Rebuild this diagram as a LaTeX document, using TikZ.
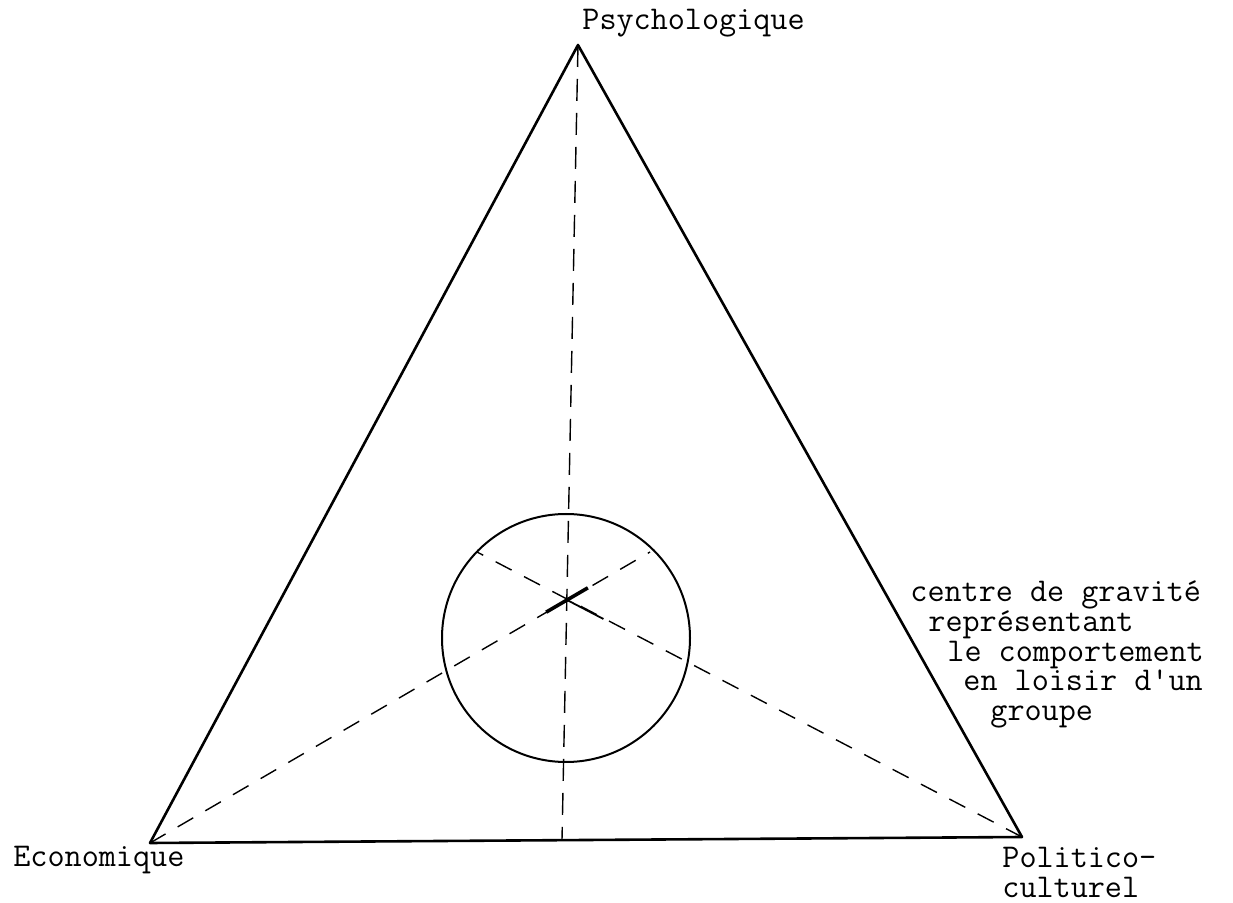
\documentclass[tikz,border=0pt]{standalone}
\usepackage{tikz}
\usetikzlibrary{calc}
\lineskiplimit=-\maxdimen

\begin{document}
\begin{tikzpicture}[x=0.5pt, y=-0.5pt,
  every node/.style={font=\fontsize{16.6}{15}\selectfont\ttfamily, inner sep=0pt},
  edge/.style={line width=1.3pt, line join=round},
  ring/.style={line width=1pt},
  median/.style={line width=0.7pt, dash pattern=on 9pt off 7pt},
  grav/.style={line width=1.8pt},
  lbl/.style={anchor=base west, align=left}
]
\useasboundingbox (0,0) rectangle (1233,903);

% Corners of the triangle
\coordinate (psy) at (578,45);
\coordinate (eco) at (150,843);
\coordinate (pol) at (1022,837);
\coordinate (foot) at (562,840);
\coordinate (G) at (567,600);
\coordinate (O) at (566,638);
\coordinate (ne) at (650,552);
\coordinate (nw) at (477,552);

% Triangle and zone
\draw[edge] (psy) -- (eco) -- (pol) -- cycle;
\draw[ring] (O) circle[radius=124];

% Dashed lines through the centre
\draw[median, dash pattern=on 11pt off 6pt] (psy) -- (foot);
\draw[median] (eco) -- (ne);
\draw[median] (pol) -- (nw);

% Centre of gravity mark
\draw[grav] ($(G)!0.05!(eco)$) -- ($(G)!-0.05!(eco)$);
\draw[line width=0.9pt] (G) -- ($(G)!0.08!(pol)$);

% Labels (base = last line)
\node[lbl] (psylbl) at (582,30) {Psychologique};
\node[lbl] (ecolbl) at (13,866) {Economique};
\node[lbl] (pollbl) at (1002,897) {Politico-\\culturel};
\node[lbl] (gravlbl) at (910,721) {centre de gravité\\
  \hspace*{9pt}représentant\\
  \hspace*{18.5pt}le comportement\\
  \hspace*{26.5pt}en loisir d'un\\
  \hspace*{40pt}groupe};
\end{tikzpicture}
\end{document}
